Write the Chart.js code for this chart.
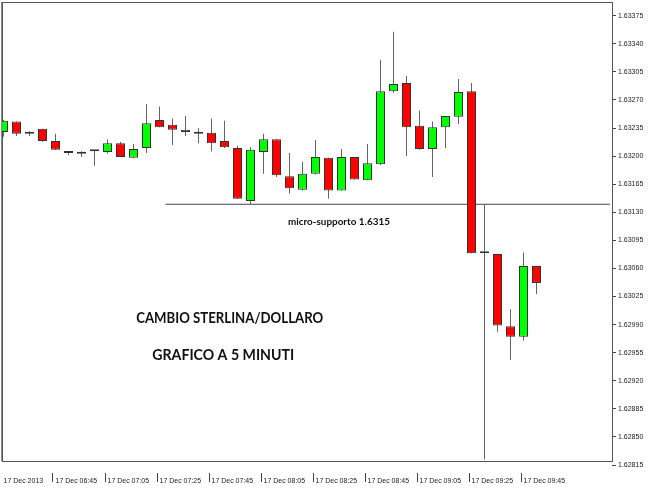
<!DOCTYPE html>
<html>
<head>
<meta charset="utf-8">
<script src="https://cdn.jsdelivr.net/npm/chart.js@4.4.1/dist/chart.umd.min.js"></script>
<style>
  html, body { margin: 0; padding: 0; background: #fff; }
  #wrap { width: 650px; height: 488px; }
</style>
</head>
<body>
<div id="wrap"><canvas id="chart"></canvas></div>
<script>
// GBP/USD, 5 minute candles, 17 Dec 2013 06:25 -> 09:50
const times = [
  "06:25", "06:30", "06:35", "06:40", "06:45", "06:50", "06:55", "07:00", "07:05", "07:10",
  "07:15", "07:20", "07:25", "07:30", "07:35", "07:40", "07:45", "07:50", "07:55", "08:00",
  "08:05", "08:10", "08:15", "08:20", "08:25", "08:30", "08:35", "08:40", "08:45", "08:50",
  "08:55", "09:00", "09:05", "09:10", "09:15", "09:20", "09:25", "09:30", "09:35", "09:40",
  "09:45", "09:50"
];
const opens = [
  1.63230, 1.63243, 1.63228, 1.63234, 1.63219, 1.63206, 1.63203, 1.63206, 1.63205, 1.63216,
  1.63198, 1.63210, 1.63245, 1.63239, 1.63233, 1.63230, 1.63229, 1.63219, 1.63210, 1.63144,
  1.63205, 1.63221, 1.63175, 1.63158, 1.63178, 1.63198, 1.63157, 1.63199, 1.63170, 1.63190,
  1.63281, 1.63291, 1.63238, 1.63209, 1.63236, 1.63249, 1.63281, 1.63079, 1.63078, 1.62988,
  1.62975, 1.63063
];
const highs = [
  1.63245, 1.63243, 1.63231, 1.63234, 1.63228, 1.63206, 1.63206, 1.63207, 1.63221, 1.63218,
  1.63215, 1.63265, 1.63262, 1.63247, 1.63250, 1.63235, 1.63247, 1.63244, 1.63213, 1.63211,
  1.63228, 1.63221, 1.63204, 1.63193, 1.63220, 1.63198, 1.63209, 1.63199, 1.63215, 1.63320,
  1.63355, 1.63300, 1.63257, 1.63243, 1.63250, 1.63296, 1.63291, 1.63140, 1.63078, 1.63009,
  1.63080, 1.63063
];
const lows = [
  1.63224, 1.63225, 1.63225, 1.63218, 1.63208, 1.63201, 1.63199, 1.63188, 1.63203, 1.63199,
  1.63198, 1.63204, 1.63236, 1.63214, 1.63225, 1.63216, 1.63206, 1.63210, 1.63147, 1.63140,
  1.63178, 1.63174, 1.63153, 1.63157, 1.63177, 1.63147, 1.63157, 1.63171, 1.63170, 1.63189,
  1.63279, 1.63200, 1.63208, 1.63174, 1.63210, 1.63240, 1.63079, 1.62822, 1.62981, 1.62946,
  1.62970, 1.63028
];
const closes = [
  1.63244, 1.63228, 1.63230, 1.63219, 1.63208, 1.63204, 1.63205, 1.63206, 1.63216, 1.63199,
  1.63209, 1.63241, 1.63236, 1.63233, 1.63230, 1.63228, 1.63216, 1.63211, 1.63147, 1.63208,
  1.63221, 1.63176, 1.63160, 1.63178, 1.63199, 1.63157, 1.63199, 1.63171, 1.63191, 1.63281,
  1.63290, 1.63236, 1.63209, 1.63236, 1.63250, 1.63280, 1.63079, 1.63079, 1.62989, 1.62975,
  1.63063, 1.63042
];

const yTicks = [
  1.62815, 1.62850, 1.62885, 1.62920, 1.62955, 1.62990, 1.63025, 1.63060, 1.63095,
  1.63130, 1.63165, 1.63200, 1.63235, 1.63270, 1.63305, 1.63340, 1.63375
];
const xTickIndex = [0, 4, 8, 12, 16, 20, 24, 28, 32, 36, 40];
const xTickLabels = [
  "17 Dec 2013", "17 Dec 06:45", "17 Dec 07:05", "17 Dec 07:25", "17 Dec 07:45", "17 Dec 08:05",
  "17 Dec 08:25", "17 Dec 08:45", "17 Dec 09:05", "17 Dec 09:25", "17 Dec 09:45"
];

// trend line drawn on the chart ("micro-supporto")
const supportLine = [
  { x: 12.46, y: 1.63140 },
  { x: 46.65, y: 1.63140 }
];

const notes = [
  { text: "micro-supporto 1.6315", x: 25.8, y: 1.63118, font: "bold 10px Lato", maxWidth: 102 },
  { text: "CAMBIO STERLINA/DOLLARO", x: 17.4, y: 1.62998, font: "bold 16px Lato", maxWidth: 187 },
  { text: "GRAFICO A 5 MINUTI", x: 16.9, y: 1.62952, font: "bold 16px Lato", maxWidth: 142 }
];

const UP = "#00ff00";
const DOWN = "#ff0000";
const DOJI = "#333333";

const bodyColors = opens.map((o, i) => (closes[i] > o ? UP : closes[i] < o ? DOWN : DOJI));

// frame, time separators and text notes
const overlay = {
  id: "overlay",
  beforeDatasetsDraw(chart) {
    const { ctx, chartArea: a } = chart;
    ctx.save();
    ctx.strokeStyle = "#555";
    ctx.lineWidth = 1;
    ctx.strokeRect(a.left + 0.5, a.top + 0.5, a.right - a.left, a.bottom - 4 - a.top);
    ctx.strokeStyle = "#888";
    ctx.beginPath();
    ctx.moveTo(a.left - 0.5, a.top);
    ctx.lineTo(a.left - 0.5, a.bottom - 4);
    ctx.stroke();
    ctx.restore();
  },
  afterDraw(chart) {
    const { ctx, scales: { x, y } } = chart;
    ctx.save();
    ctx.strokeStyle = "#444";
    ctx.lineWidth = 1;
    x.ticks.forEach((t) => {
      if (t.value === 0) return;
      const px = Math.round(x.getPixelForValue(t.value)) - 2.5;
      ctx.beginPath();
      ctx.moveTo(px, 473);
      ctx.lineTo(px, 482);
      ctx.stroke();
    });
    ctx.fillStyle = "#111";
    ctx.textAlign = "center";
    ctx.textBaseline = "middle";
    notes.forEach((n) => {
      ctx.font = n.font;
      ctx.fillText(n.text, x.getPixelForValue(n.x), y.getPixelForValue(n.y), n.maxWidth);
    });
    ctx.restore();
  }
};

new Chart(document.getElementById("chart"), {
  type: "bar",
  data: {
    datasets: [
      {
        label: "body",
        data: times.map((t, i) => ({ x: i, y: [opens[i], closes[i]] })),
        backgroundColor: bodyColors,
        borderColor: "#333",
        borderWidth: 1,
        borderSkipped: false,
        barThickness: 9,
        minBarLength: 2,
        inflateAmount: 0,
        grouped: false,
        order: 0
      },
      {
        label: "wick",
        data: times.map((t, i) => ({ x: i, y: [lows[i], highs[i]] })),
        backgroundColor: "#666",
        borderWidth: 0,
        barThickness: 1,
        inflateAmount: 0,
        grouped: false,
        order: 1
      },
      {
        type: "line",
        label: "support",
        data: supportLine,
        borderColor: "#444",
        borderWidth: 1,
        pointRadius: 0,
        order: 2
      }
    ]
  },
  options: {
    responsive: true,
    maintainAspectRatio: false,
    animation: false,
    events: [],
    layout: { padding: { top: 2, left: 2, right: 0, bottom: 0 } },
    plugins: { legend: { display: false }, tooltip: { enabled: false } },
    scales: {
      x: {
        type: "linear",
        offset: false,
        min: -1.5 / 13,
        max: -1.5 / 13 + 610 / 13,
        grid: { display: false },
        border: { display: false },
        afterBuildTicks: (s) => { s.ticks = xTickIndex.map((v) => ({ value: v })); },
        afterFit: (s) => { s.height = 23; s.paddingLeft = 0; s.paddingRight = 0; },
        ticks: {
          autoSkip: false,
          maxRotation: 0,
          minRotation: 0,
          align: "start",
          padding: 4,
          color: "#222",
          font: { family: "Liberation Sans", size: 7 },
          callback: (v) => xTickLabels[xTickIndex.indexOf(v)]
        }
      },
      y: {
        position: "right",
        min: 1.62815,
        max: 1.633921,
        bounds: "data",
        beginAtZero: false,
        grid: { drawOnChartArea: false, tickLength: 4, color: "#444" },
        border: { display: false },
        afterBuildTicks: (s) => { s.ticks = yTicks.map((v) => ({ value: v })); },
        afterFit: (s) => { s.width = 38; s.paddingTop = 0; s.paddingBottom = 0; },
        ticks: {
          padding: 2,
          color: "#222",
          font: { family: "Liberation Sans", size: 7 },
          callback: (v) => v.toFixed(5)
        }
      }
    }
  },
  plugins: [overlay]
});
</script>
</body>
</html>
